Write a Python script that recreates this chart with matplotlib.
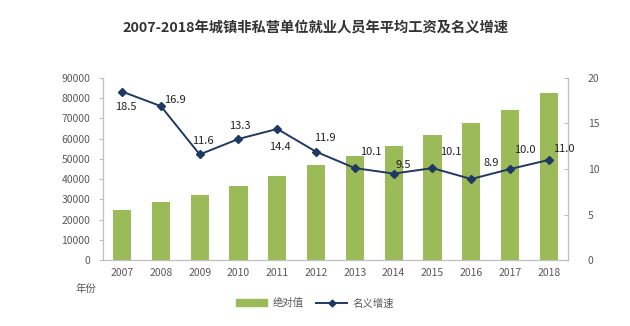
import matplotlib
matplotlib.use("Agg")
import matplotlib.pyplot as plt
from matplotlib.lines import Line2D
from matplotlib.patches import Patch

plt.rcParams['font.family'] = ['Noto Sans CJK SC', 'DejaVu Sans']

# data
years = ['2007', '2008', '2009', '2010', '2011', '2012',
         '2013', '2014', '2015', '2016', '2017', '2018']
wage = [24932, 28898, 32244, 36539, 41799, 46769,
        51483, 56360, 62029, 67569, 74318, 82413]
growth = [18.5, 16.9, 11.6, 13.3, 14.4, 11.9, 10.1, 9.5, 10.1, 8.9, 10.0, 11.0]

# label offsets (pixels) for each growth value
offsets = [(4, -15), (14, 6), (3, 13), (1, 13), (3, -18), (9, 14),
           (16, 16), (10, 9), (18, 16), (20, 16), (15, 19), (15, 11)]

bar_color = '#9BBB59'
line_color = '#1F3864'
grey = '#595959'

fig = plt.figure(figsize=(6.3, 3.26), dpi=100)
ax = fig.add_axes([0.163, 0.202, 0.739, 0.559])
ax2 = ax.twinx()

x = range(len(years))
ax.bar(x, wage, width=0.47, color=bar_color, zorder=2)
ax.set_xlim(-0.5, len(years) - 0.5)
ax.set_ylim(0, 90000)
ax.set_yticks(range(0, 90001, 10000))
ax.set_xticks(list(x))
ax.set_xticklabels(years)

ax2.plot(x, growth, color=line_color, lw=1.4, marker='D', ms=4, zorder=3)
ax2.set_ylim(0, 20)
ax2.set_yticks([0, 5, 10, 15, 20])
for i, v in enumerate(growth):
    ax2.annotate(f'{v:.1f}', (i, v), textcoords='offset pixels', xytext=offsets[i],
                 ha='center', va='center', fontsize=8, color='#222222')

for a in (ax, ax2):
    a.spines['top'].set_visible(False)
    for s in ('left', 'right', 'bottom'):
        a.spines[s].set_color('#BFBFBF')
        a.spines[s].set_linewidth(0.8)
    a.tick_params(colors='#BFBFBF', labelcolor=grey, labelsize=7.5, length=3, width=0.8)
ax.tick_params(axis='x', length=0, pad=6)
ax.tick_params(axis='y', pad=6)
ax2.tick_params(axis='y', direction='in', pad=14)

fig.text(0.5, 0.915, '2007-2018年城镇非私营单位就业人员年平均工资及名义增速',
         ha='center', va='center', fontsize=10.3, fontweight='bold', color='#333333')
fig.text(0.137, 0.113, '年份', ha='center', va='center', fontsize=7.5, color=grey)

handles = [Patch(color=bar_color),
           Line2D([0], [0], color=line_color, lw=1.4, marker='D', ms=3.5)]
fig.legend(handles, ['绝对值', '名义增速'], loc='center', bbox_to_anchor=(0.5, 0.07),
           ncol=2, frameon=False, fontsize=7.5, labelcolor=grey,
           handlelength=3, handleheight=0.6, columnspacing=1.2, handletextpad=0.5)

fig.savefig('out.png', dpi=100, facecolor='white')
